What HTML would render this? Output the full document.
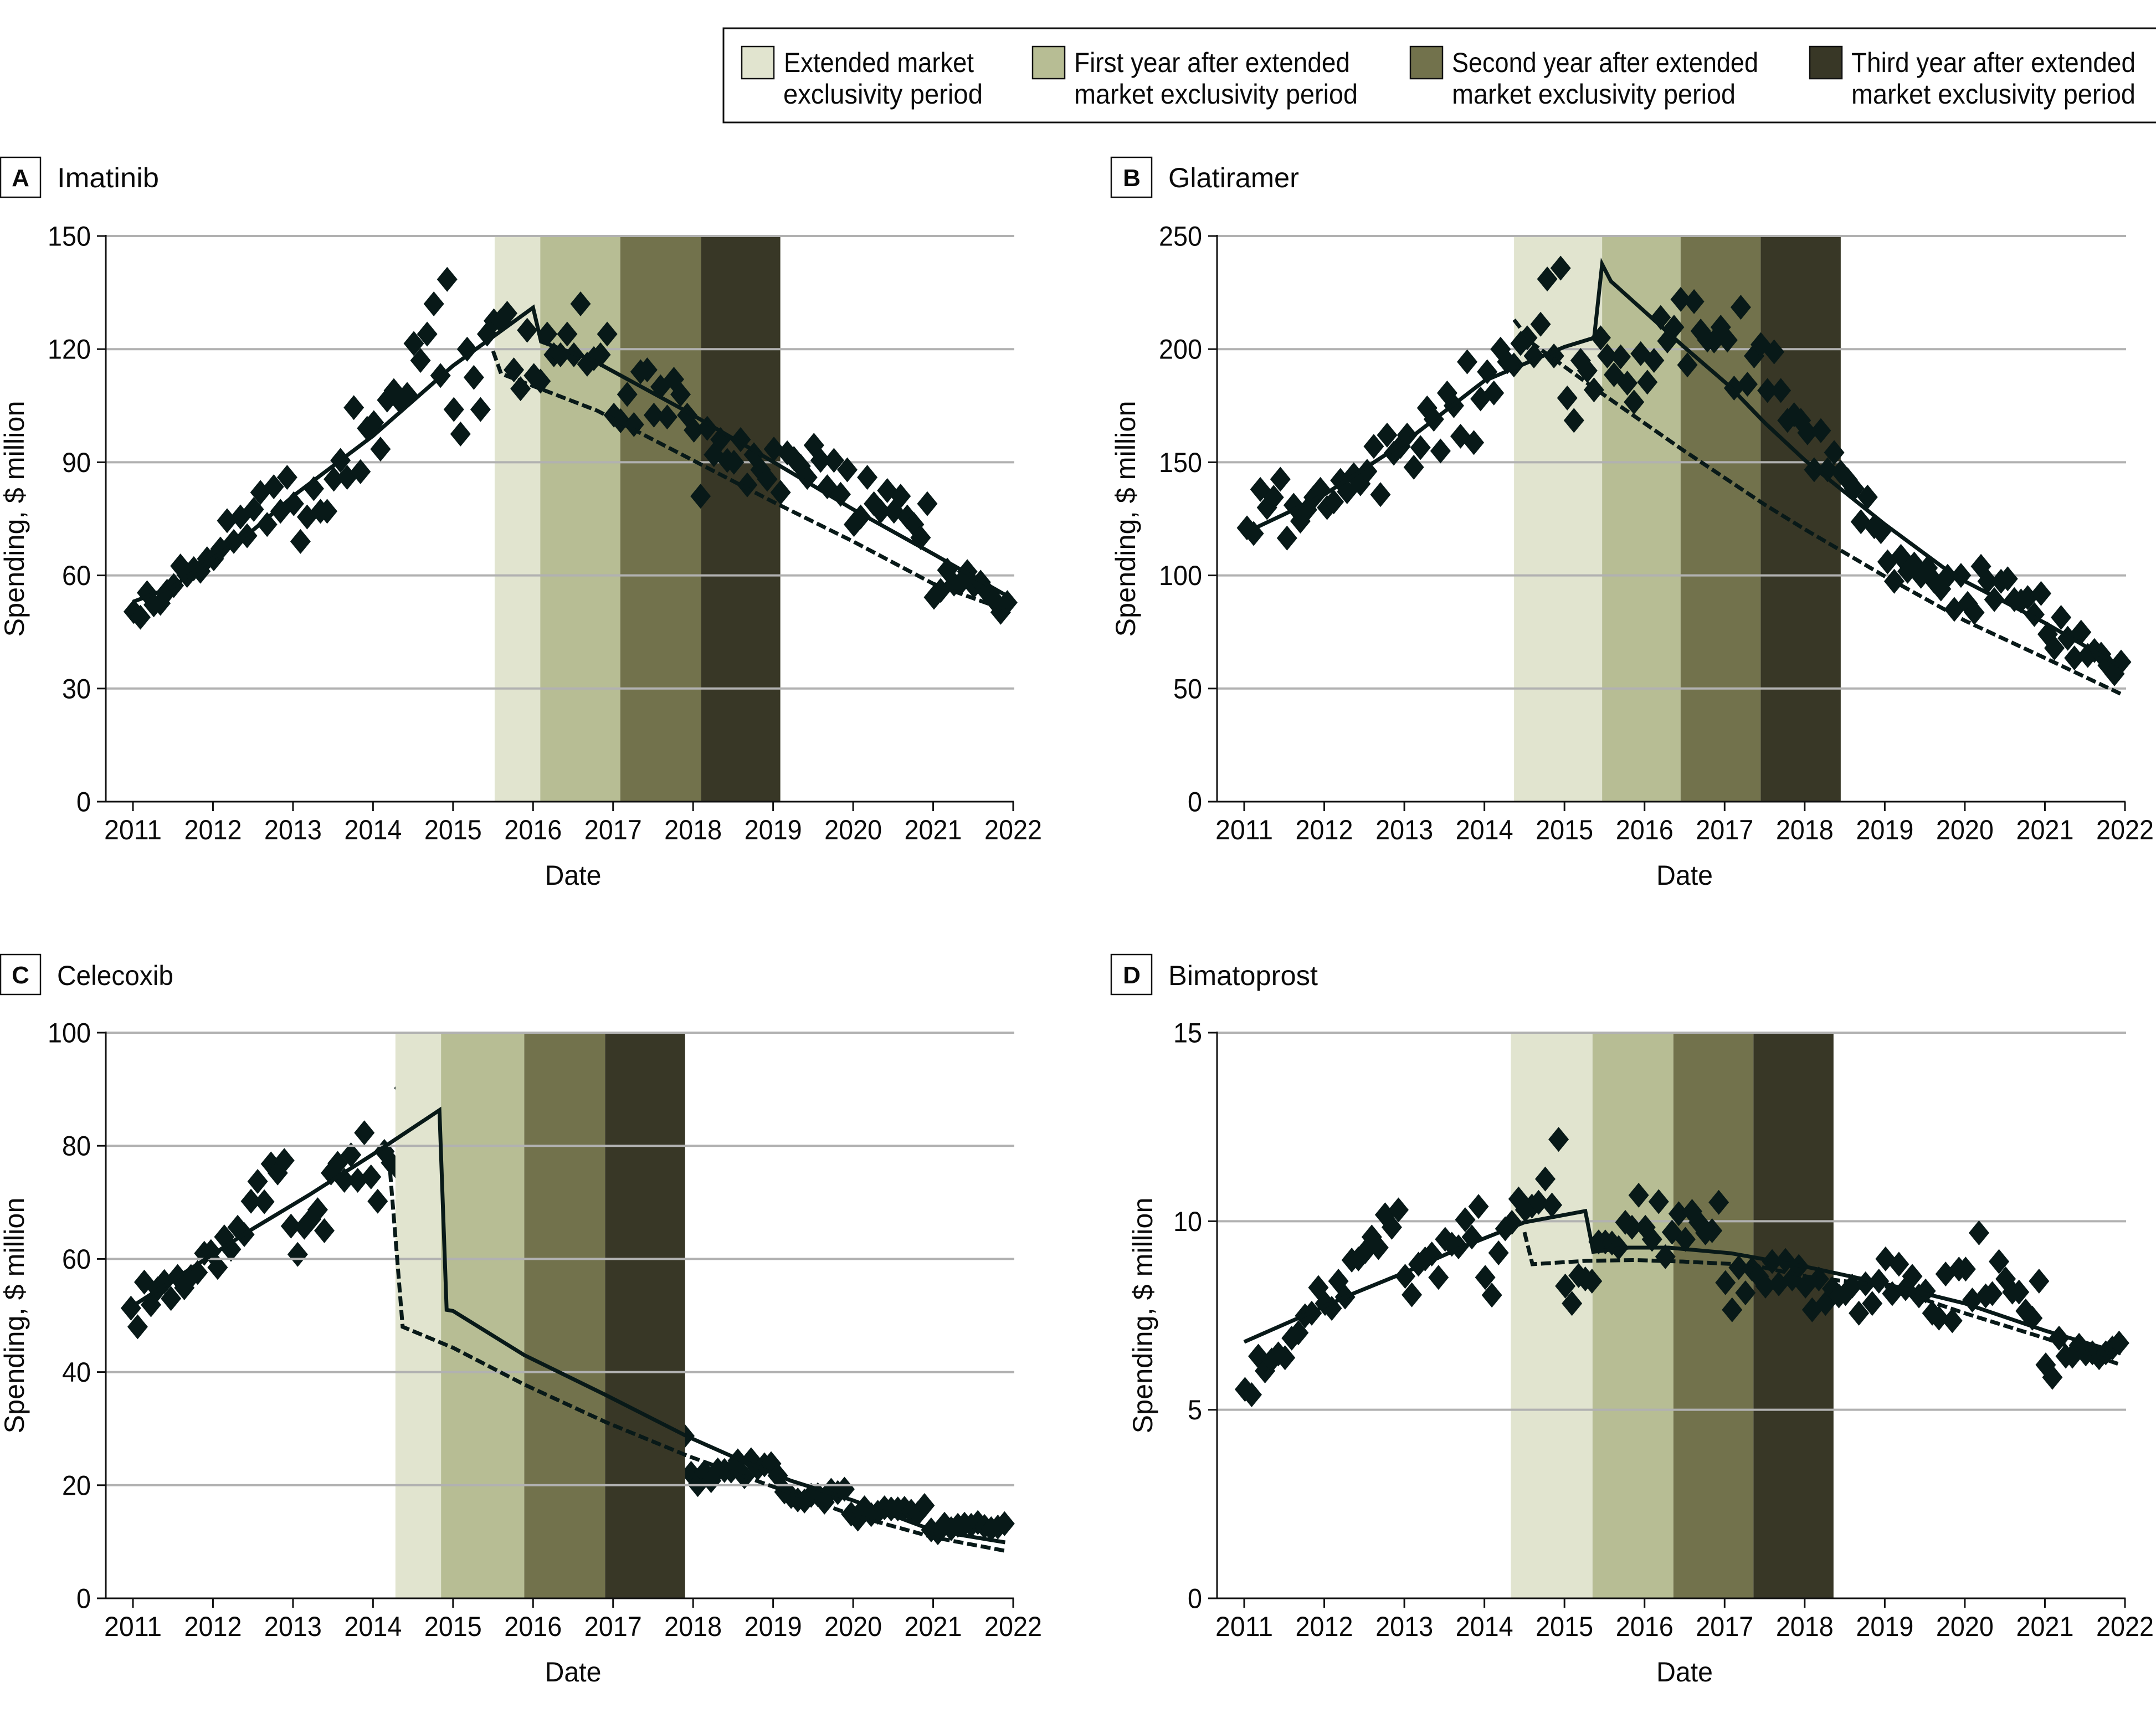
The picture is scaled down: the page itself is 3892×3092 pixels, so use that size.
<!DOCTYPE html>
<html lang="en">
<head>
<meta charset="utf-8">
<title>Spending on drugs with extended market exclusivity</title>
<style>
html,body{margin:0;padding:0;background:#fff;}
svg{display:block;}
text{font-family:"Liberation Sans",sans-serif;fill:#0a0a0a;}
</style>
</head>
<body>
<svg id="chart" xmlns="http://www.w3.org/2000/svg" width="3892" height="3092" viewBox="0 0 3892 3092">
  <rect x="0" y="0" width="3892" height="3092" fill="#ffffff"/>
  <g>
    <rect x="1306" y="51" width="2600" height="170" fill="#fff" stroke="#111" stroke-width="3"/>
    <g>
      <rect x="1339" y="84" width="58" height="58" fill="#e1e4cf" stroke="#111" stroke-width="2.5"/>
      <text x="1415" y="130" font-size="50" textLength="343" lengthAdjust="spacingAndGlyphs">Extended market</text>
      <text x="1414" y="187" font-size="50" textLength="360" lengthAdjust="spacingAndGlyphs">exclusivity period</text>
    </g>
    <g>
      <rect x="1864" y="84" width="58" height="58" fill="#b7bd94" stroke="#111" stroke-width="2.5"/>
      <text x="1939" y="130" font-size="50" textLength="498" lengthAdjust="spacingAndGlyphs">First year after extended</text>
      <text x="1939" y="187" font-size="50" textLength="512" lengthAdjust="spacingAndGlyphs">market exclusivity period</text>
    </g>
    <g>
      <rect x="2546" y="84" width="58" height="58" fill="#72724c" stroke="#111" stroke-width="2.5"/>
      <text x="2621" y="130" font-size="50" textLength="553" lengthAdjust="spacingAndGlyphs">Second year after extended</text>
      <text x="2621" y="187" font-size="50" textLength="512" lengthAdjust="spacingAndGlyphs">market exclusivity period</text>
    </g>
    <g>
      <rect x="3267" y="84" width="58" height="58" fill="#383726" stroke="#111" stroke-width="2.5"/>
      <text x="3342" y="130" font-size="50" textLength="513" lengthAdjust="spacingAndGlyphs">Third year after extended</text>
      <text x="3342" y="187" font-size="50" textLength="513" lengthAdjust="spacingAndGlyphs">market exclusivity period</text>
    </g>
  </g>
  <g>
    <rect x="1" y="284" width="72" height="72" fill="#fff" stroke="#111" stroke-width="2.5"/>
    <text x="37" y="336" font-size="44" font-weight="bold" text-anchor="middle">A</text>
    <text x="103" y="338" font-size="50" textLength="184" lengthAdjust="spacingAndGlyphs">Imatinib</text>
  </g>
  <g>
    <rect x="2006" y="284" width="73" height="72" fill="#fff" stroke="#111" stroke-width="2.5"/>
    <text x="2043" y="336" font-size="44" font-weight="bold" text-anchor="middle">B</text>
    <text x="2109" y="338" font-size="50" textLength="236" lengthAdjust="spacingAndGlyphs">Glatiramer</text>
  </g>
  <g>
    <rect x="1" y="1723" width="72" height="72" fill="#fff" stroke="#111" stroke-width="2.5"/>
    <text x="37" y="1775" font-size="44" font-weight="bold" text-anchor="middle">C</text>
    <text x="103" y="1778" font-size="50" textLength="210" lengthAdjust="spacingAndGlyphs">Celecoxib</text>
  </g>
  <g>
    <rect x="2006" y="1723" width="73" height="72" fill="#fff" stroke="#111" stroke-width="2.5"/>
    <text x="2043" y="1775" font-size="44" font-weight="bold" text-anchor="middle">D</text>
    <text x="2109" y="1778" font-size="50" textLength="270" lengthAdjust="spacingAndGlyphs">Bimatoprost</text>
  </g>
</svg>
<script>
// ---------- shared data ----------
const yearTicks = [2011,2012,2013,2014,2015,2016,2017,2018,2019,2020,2021,2022];
const bandNames = ['extended-period','first-year','second-year','third-year'];

// ---------- A: Imatinib ----------
const imatinibYTicks = [0,30,60,90,120,150];
const imatinibFirstDate = 2011.01;
const imatinibValues = [
50.4,48.9,55.4,52.2,52.6,55.8,57.3,62.5,60,61.8,61.1,64.4,
64.4,67,74.5,69,75.5,70.5,77.5,82,73.5,83.5,77,86,
79,69,75.5,83,77,77,85.5,90.5,86,104.5,87.5,99,
100.5,93.5,106.5,109,106,108,121.5,117,124,132,113,138.5,
104,97.5,120,112.5,104,124,127.5,127.5,129.5,114.5,109.5,125,
113,111.5,124,118.5,118.5,124,118.5,132,116,117.5,118.5,124,
102.5,101,108,100,114,114.5,102.5,110,102,112,108,102.5,
98.5,81,99,92,96,90.5,90,96,84,92,88,85.5,
93.5,82,92.5,91,89,86,94.5,90.5,83.5,90.5,81.5,88,
73.5,75.5,86,79,77,82.5,77,81,75.5,73.5,70,79,
54.2,56,61.4,57.7,58,61,57.2,58.2,55.5,53.5,50.2,52.8];
const imatinibBandDates = [2015.52,2016.09,2017.09,2018.10,2019.09];
const imatinibActualDates = [2011,2011.5,2012.5,2013.03,2014,2015,2016,2016.1,2016.75,2017.9,2018.85,2020,2021,2021.97];
const imatinibActualValues = [53,57,72,81.5,97,115.6,131,122,117,103.7,92,77.5,65.7,54];
const imatinibCounterDates = [2015.5,2015.6,2016.8,2018,2019,2020,2021,2021.95];
const imatinibCounterValues = [119.5,113.5,103.7,90.5,79.5,69,57.8,50.5];

// ---------- B: Glatiramer ----------
const glatiramerYTicks = [0,50,100,150,200,250];
const glatiramerFirstDate = 2011.035;
const glatiramerValues = [
121,118.5,138,130,134.5,142.5,116.5,131,124,129,134.5,138,
130,132.5,142,137,144.5,140.5,146,157,135.7,162,154,157,
162,147.8,156.5,174,169,155,180.6,175,161.5,194.4,158.7,178,
190,180.6,200,194.4,193,202.5,205,197,211,231,197,235.8,
178.4,168.5,195,190.5,182,205,197,188.7,196.6,185,176.6,198,
185.4,195,214,203.6,209.7,222,193,221,208,204,203.6,209.7,
204,182.8,218.5,184.5,197,202,181.7,198.8,181.7,168.5,171,168.5,
163,146.7,164,146.7,154.3,145.6,142.3,138.4,123.7,134.6,121.5,119.3,
106,97.4,108.4,101.8,105,99.6,103.3,97.4,94,99.6,85,100,
87.6,83.6,104,97.4,89.3,97.4,98.5,89.3,88.7,90.2,82.7,92,
74,67.9,81.4,72.2,63.5,74.9,64.6,66.8,65.2,60.2,56.5,61.7];
const glatiramerBandDates = [2014.37,2015.47,2016.45,2017.45,2018.45];
const glatiramerActualDates = [2011.17,2011.5,2012,2013,2014,2015,2015.37,2015.47,2015.58,2016.48,2017.05,2017.5,2018,2019,2019.75,2020,2021,2021.93];
const glatiramerActualValues = [121.5,127,135.7,158.7,186,201,205,237.5,230,201.4,184,167.5,151,122.6,103,97.4,79,60];
const glatiramerCounterDates = [2014.37,2014.6,2015.37,2016.48,2017.5,2018,2019,2020,2021,2021.944];
const glatiramerCounterValues = [213,202.5,182.8,155.4,131.3,120.4,99.6,80,63.5,47.7];

// ---------- C: Celecoxib ----------
const celecoxibYTicks = [0,20,40,60,80,100];
const celecoxibFirstDate = 2010.975;
// null = month hidden behind the shaded bands in the figure
const celecoxibValues = [
51.3,48,55.9,51.9,54.7,56,53,56.9,54.9,56.9,57.6,61,
61.3,58.5,63.9,61.7,65.6,64.3,70.2,73.7,70.1,76.8,75.2,77.4,
65.8,60.8,65.6,67,68.7,65,75.2,76.9,73.9,78.4,73.9,82.3,
74.5,70.2,79,77,76,90.2,
null,null,null,null,null,null,null,null,null,null,null,null,
null,null,null,null,null,null,null,null,null,null,null,null,
null,null,null,null,null,null,null,null,null,null,null,null,
null,null,null,null,null,
28.7,22.1,20.1,22.3,20.8,22.7,22.6,22.5,24.3,21.5,24.5,23,
23.6,23.8,21.7,18.8,18,17.4,17.2,18.2,18.3,17,19.1,18.7,
19.3,14.9,14,16,14.8,15.2,16,15.8,15.8,15.9,15.4,15,
16.4,12.1,11.6,13.1,12.3,12.9,13.1,12.9,13.4,12.7,12.3,12.6,13.2];
const celecoxibBandDates = [2014.28,2014.85,2015.89,2016.9,2017.9];
const celecoxibActualDates = [2011,2012.43,2013.2,2014,2014.83,2014.92,2015,2015.89,2016.9,2017.93,2018.47,2019.22,2020,2021,2021.9];
const celecoxibActualValues = [51.7,64.75,71.3,78.5,86.3,51,50.8,43,36,28.6,25.2,20.8,17.3,12,9.9];
const celecoxibCounterDates = [2014.2,2014.24,2014.3,2014.37,2015,2015.89,2016.9,2017.93,2018.79,2020,2021,2021.9];
const celecoxibCounterValues = [77.8,70.8,60.4,48,44.3,37.8,31.2,25.2,20.8,14.7,10.8,8.4];

// ---------- D: Bimatoprost ----------
const bimatoprostYTicks = [0,5,10,15];
const bimatoprostFirstDate = 2011.01;
const bimatoprostValues = [
5.54,5.4,6.42,6.03,6.32,6.48,6.38,6.9,7.04,7.49,7.56,8.24,
7.82,7.69,8.41,7.99,8.97,9,9.19,9.58,9.3,10.17,9.84,10.3,
8.54,8.05,8.86,9,9.13,8.51,9.52,9.39,9.32,10.04,9.58,10.39,
8.51,8.04,9.16,9.8,9.97,10.59,10.3,10.4,10.5,11.12,10.43,12.17,
8.28,7.82,8.56,8.47,8.41,9.45,9.45,9.42,9.3,9.97,9.84,10.69,
9.84,9.52,10.52,9.06,9.71,10.2,9.52,10.26,9.97,9.69,9.75,10.5,
8.37,7.65,8.77,8.1,8.73,8.54,8.28,8.93,8.34,8.96,8.47,8.8,
8.28,7.65,8.47,7.82,8.21,8.02,8.08,8.28,7.56,8.34,7.82,8.41,
9,8.08,8.86,8.21,8.54,8.02,8.15,7.56,7.43,8.6,7.36,8.73,
8.73,7.91,9.69,8.02,8.08,8.93,8.47,8.12,8.12,7.62,7.43,8.41,
6.19,5.86,6.9,6.42,6.42,6.71,6.48,6.51,6.38,6.51,6.64,6.77];
const bimatoprostBandDates = [2014.33,2015.35,2016.36,2017.36,2018.36];
const bimatoprostActualDates = [2011,2011.75,2012.36,2013.04,2013.73,2014.5,2015.26,2015.36,2015.8,2016.3,2017.08,2018,2019,2020,2021,2021.95];
const bimatoprostActualValues = [6.8,7.5,8.08,8.67,9.32,9.97,10.27,9.19,9.3,9.3,9.15,8.8,8.34,7.82,7.1,6.5];
const bimatoprostCounterDates = [2014.5,2014.6,2015.28,2015.88,2016.48,2017.34,2018,2019,2020,2021,2021.95];
const bimatoprostCounterValues = [9.71,8.86,8.95,8.97,8.93,8.84,8.54,8.28,7.56,6.9,6.19];

// ---------- drawing ----------
const SVGNS = 'http://www.w3.org/2000/svg';
const svgRoot = document.getElementById('chart');
const bandFills = ['#e1e4cf','#b7bd94','#72724c','#383726'];
const markColor = '#081918';

function make(tag, parent, attrs){
  const node = document.createElementNS(SVGNS, tag);
  for (const k in attrs) node.setAttribute(k, attrs[k]);
  parent.appendChild(node);
  return node;
}

function drawPanel(id, cfg){
  const xAt = d => cfg.x0 + (d - 2011) * (cfg.x1 - cfg.x0) / 11;
  const yMax = cfg.yTicks[cfg.yTicks.length - 1];
  const yAt = v => cfg.bottom - v * (cfg.bottom - cfg.top) / yMax;

  const g = make('g', svgRoot, {});
  
  

  function drawBands(){
    for (let i = 0; i < bandFills.length; i++){
      const a = xAt(cfg.bands[i]), b = xAt(cfg.bands[i + 1]);
      const r = make('rect', g, {x:a, y:cfg.top, width:b - a, height:cfg.bottom - cfg.top, fill:bandFills[i]});
      
      
    }
  }
  function drawGrid(){
    cfg.yTicks.forEach(v => {
      if (v === 0) return;
      const l = make('line', g, {x1:cfg.axisX, x2:cfg.x1 + 2, y1:yAt(v), y2:yAt(v), stroke:'#b1b1b1', 'stroke-width':4});
      
      
    });
  }
  function drawPoints(){
    const hw = 18.5, hh = 22.5;
    const pg = make('g', g, {});
    
    
    cfg.values.forEach((v, i) => {
      if (v === null) return;
      const cx = xAt(cfg.firstDate + i / 12), cy = yAt(v);
      const p = make('polygon', pg, {
        points: (cx - hw) + ',' + cy + ' ' + cx + ',' + (cy - hh) + ' ' + (cx + hw) + ',' + cy + ' ' + cx + ',' + (cy + hh),
        fill: markColor
      });
      
      
    });
  }
  function drawLines(){
    const pts = (ds, vs) => ds.map((d, i) => xAt(d) + ',' + yAt(vs[i])).join(' ');
    const solid = make('polyline', g, {points:pts(cfg.actualDates, cfg.actualValues), fill:'none', stroke:markColor, 'stroke-width':7, 'stroke-linejoin':'miter'});
    
    
    const dashed = make('polyline', g, {points:pts(cfg.counterDates, cfg.counterValues), fill:'none', stroke:markColor, 'stroke-width':7, 'stroke-dasharray':'18 7'});
    
    
  }

  if (cfg.bandsOverPoints){
    drawPoints();
    drawBands();
    drawGrid();
  } else {
    drawBands();
    drawGrid();
    drawPoints();
  }
  drawLines();

  // axes
  const yAxis = make('line', g, {x1:cfg.axisX, x2:cfg.axisX, y1:cfg.top - 2, y2:cfg.bottom, stroke:'#111', 'stroke-width':3});
  
  
  const xAxis = make('line', g, {x1:cfg.axisX - 16, x2:cfg.x1 + 1, y1:cfg.bottom, y2:cfg.bottom, stroke:'#111', 'stroke-width':3});
  
  

  cfg.yTicks.forEach(v => {
    const t = make('line', g, {x1:cfg.axisX - 16, x2:cfg.axisX, y1:yAt(v), y2:yAt(v), stroke:'#111', 'stroke-width':3});
    
    
    const s = String(v);
    const lab = make('text', g, {x:cfg.axisX - 27, y:yAt(v) + 17.5, 'font-size':50, 'text-anchor':'end', textLength:s.length * 26, lengthAdjust:'spacingAndGlyphs'});
    lab.textContent = s;
    
    
  });
  yearTicks.forEach(y => {
    const t = make('line', g, {x1:xAt(y), x2:xAt(y), y1:cfg.bottom, y2:cfg.bottom + 17, stroke:'#111', 'stroke-width':3});
    
    
    const lab = make('text', g, {x:xAt(y), y:cfg.bottom + 68, 'font-size':50, 'text-anchor':'middle', textLength:104, lengthAdjust:'spacingAndGlyphs'});
    lab.textContent = String(y);
    
    
  });

  const xt = make('text', g, {x:(cfg.x0 + cfg.x1) / 2, y:cfg.bottom + 150, 'font-size':50, 'text-anchor':'middle', textLength:102, lengthAdjust:'spacingAndGlyphs'});
  xt.textContent = 'Date';
  
  

  const cy = (cfg.top + cfg.bottom) / 2;
  const yt = make('text', g, {transform:'translate(' + cfg.yTitleX + ',' + cy + ') rotate(-90)', x:0, y:0, 'font-size':50, 'text-anchor':'middle', textLength:426, lengthAdjust:'spacingAndGlyphs'});
  yt.textContent = 'Spending, $ million';
  
  
}

drawPanel('a', {axisX:191, x0:240, x1:1829, top:426, bottom:1447, yTitleX:43, yTicks:imatinibYTicks,
  firstDate:imatinibFirstDate, values:imatinibValues, bands:imatinibBandDates,
  actualDates:imatinibActualDates, actualValues:imatinibActualValues,
  counterDates:imatinibCounterDates, counterValues:imatinibCounterValues});
drawPanel('b', {axisX:2197, x0:2246, x1:3836, top:426, bottom:1447, yTitleX:2049, yTicks:glatiramerYTicks,
  firstDate:glatiramerFirstDate, values:glatiramerValues, bands:glatiramerBandDates,
  actualDates:glatiramerActualDates, actualValues:glatiramerActualValues,
  counterDates:glatiramerCounterDates, counterValues:glatiramerCounterValues});
drawPanel('c', {axisX:191, x0:240, x1:1829, top:1864, bottom:2885, yTitleX:43, yTicks:celecoxibYTicks, bandsOverPoints:true,
  firstDate:celecoxibFirstDate, values:celecoxibValues, bands:celecoxibBandDates,
  actualDates:celecoxibActualDates, actualValues:celecoxibActualValues,
  counterDates:celecoxibCounterDates, counterValues:celecoxibCounterValues});
drawPanel('d', {axisX:2197, x0:2246, x1:3836, top:1864, bottom:2885, yTitleX:2080, yTicks:bimatoprostYTicks,
  firstDate:bimatoprostFirstDate, values:bimatoprostValues, bands:bimatoprostBandDates,
  actualDates:bimatoprostActualDates, actualValues:bimatoprostActualValues,
  counterDates:bimatoprostCounterDates, counterValues:bimatoprostCounterValues});
</script>
</body>
</html>
